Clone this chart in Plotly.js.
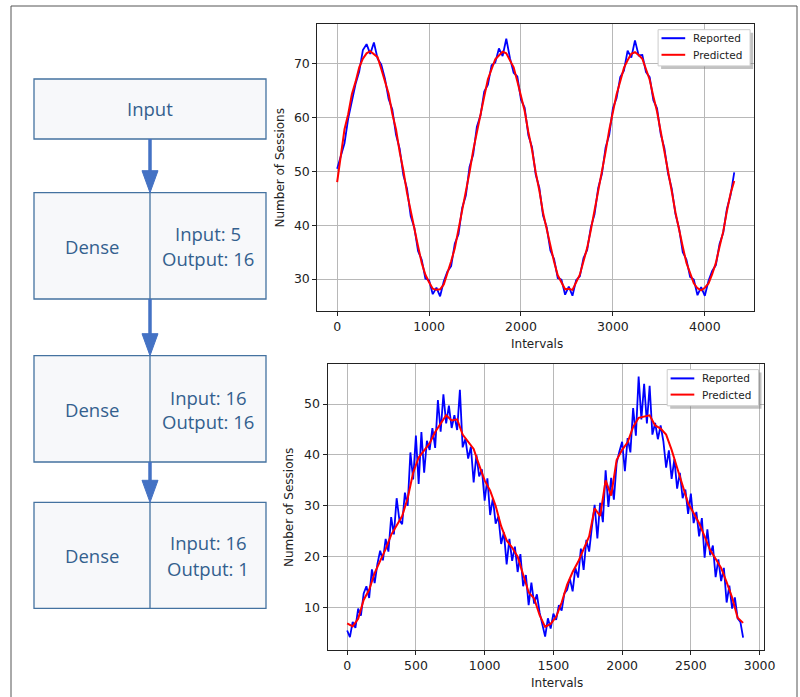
<!DOCTYPE html>
<html>
<head>
<meta charset="utf-8">
<script src="https://cdn.plot.ly/plotly-3.0.1.min.js"></script>
<style>
html,body{margin:0;padding:0;background:#fff;}
#chart{width:800px;height:697px;}
</style>
</head>
<body>
<div id="chart"></div>
<script>
// ---------- DATA ----------
const seriesNames = ['Reported', 'Predicted'];

// Top chart: interval spacing of samples
const topStep = 40;
const topReported = [
  50.5, 52.8, 55.2, 59.8, 63.0, 66.2, 68.5, 72.5, 73.6, 71.8, 73.9, 70.9, 69.8, 67.2, 63.4, 61.5, 56.8, 54.2,
  49.3, 46.8, 41.7, 39.5, 35.2, 33.6, 30.1, 29.8, 27.2, 28.4, 26.8, 29.6, 31.4, 32.4, 36.6, 38.3, 43.2, 45.5,
  50.8, 53.1, 58.3, 60.4, 64.8, 66.1, 69.7, 70.2, 72.8, 71.4, 74.6, 71.0, 68.3, 67.6, 63.3, 61.8, 56.7, 54.5,
  49.4, 46.9, 41.8, 39.6, 35.3, 33.7, 30.2, 29.9, 27.1, 28.6, 26.9, 29.8, 30.5, 33.9, 35.4, 39.6, 42.0, 46.9,
  49.5, 54.4, 56.8, 61.7, 63.6, 67.5, 68.7, 72.4, 71.1, 74.3, 71.5, 71.6, 68.4, 67.5, 63.2, 61.7, 56.9, 54.3,
  49.6, 46.8, 42.1, 39.4, 35.0, 33.6, 30.4, 29.9, 27.0, 28.5, 26.9, 29.7, 31.5, 32.6, 36.5, 38.6, 43.0, 45.6,
  49.8
];
const topPredicted = [
  48.0, 53.2, 57.8, 60.6, 64.3, 66.6, 69.3, 70.9, 71.9, 72.3, 71.8, 71.2, 69.0, 66.8, 64.4, 60.7, 57.8, 53.6,
  50.2, 46.0, 42.7, 38.8, 36.1, 33.0, 30.8, 29.4, 28.2, 28.0, 28.1, 29.0, 31.0, 33.3, 35.7, 39.2, 42.4, 46.3,
  49.8, 53.9, 57.3, 61.2, 63.9, 67.1, 68.9, 70.8, 71.5, 72.2, 71.9, 70.5, 69.3, 66.7, 64.2, 61.2, 57.3, 54.0,
  49.8, 46.4, 42.3, 39.2, 35.7, 33.2, 30.7, 29.5, 28.1, 28.2, 28.0, 29.4, 30.8, 33.3, 35.8, 39.1, 42.6, 46.0,
  50.1, 53.6, 57.7, 60.8, 64.3, 66.7, 69.2, 70.6, 71.8, 72.1, 71.6, 70.9, 68.9, 67.0, 63.9, 61.1, 57.4, 53.9,
  50.0, 46.3, 42.4, 38.9, 36.0, 33.0, 31.0, 29.2, 28.3, 27.9, 28.4, 29.2, 30.9, 33.0, 36.0, 38.8, 42.6, 45.9,
  48.2
];

// Bottom chart
const bottomReportedStep = 20;
const bottomReported = [
  5.5, 4.2, 7.2, 6.0, 9.8, 8.4, 12.8, 14.2, 11.9, 17.5, 14.8, 18.6, 21.2, 19.3, 23.5, 21.0, 27.8, 24.4, 31.5, 27.2,
  26.4, 32.6, 30.0, 40.5, 35.2, 43.8, 34.3, 44.5, 36.5, 42.8, 41.0, 45.3, 41.4, 50.8, 44.6, 51.9, 46.2, 49.7, 45.3, 47.8,
  44.9, 52.8, 41.5, 43.2, 39.3, 41.6, 34.6, 40.0, 35.8, 37.2, 31.0, 35.4, 28.2, 31.5, 26.5, 27.9, 22.5, 24.8, 18.5, 23.5,
  19.2, 22.0, 17.0, 20.5, 14.2, 16.4, 10.5, 14.9, 10.8, 12.6, 9.0, 6.8, 4.3, 7.9, 5.9, 8.8, 7.6, 10.5, 9.4, 12.8,
  13.5, 15.7, 13.2, 17.8, 15.9, 21.6, 17.4, 23.3, 21.0, 25.8, 30.2, 23.6, 30.6, 26.8, 37.0, 29.8, 35.5, 31.2, 38.4, 40.7,
  42.6, 36.8, 43.3, 40.5, 49.2, 43.8, 55.4, 47.0, 54.0, 46.2, 53.6, 44.0, 46.3, 43.1, 45.8, 42.7, 37.5, 40.9, 35.3, 39.2,
  33.4, 36.5, 31.5, 33.2, 28.4, 32.4, 26.6, 28.8, 24.0, 27.6, 19.8, 25.4, 20.3, 22.2, 16.0, 19.5, 15.2, 17.8, 11.0, 14.3,
  9.8, 12.0, 7.9, 7.2, 4.1
];
const bottomPredictedStep = 40;
const bottomPredicted = [
  6.9, 6.3, 7.8, 11.5, 13.5, 16.8, 19.2, 21.5, 24.3, 26.3, 28.0, 31.5, 36.5, 39.5, 41.0, 42.3, 44.5, 46.2, 47.8, 46.8,
  47.0, 44.0, 42.6, 41.2, 38.0, 35.0, 33.0, 30.0, 26.0, 23.2, 21.8, 20.0, 16.5, 13.0, 11.8, 8.5, 6.2, 6.8, 8.2, 11.0,
  14.5, 17.0, 19.0, 21.5, 24.0, 29.5, 28.0, 35.0, 32.0, 39.0, 41.0, 42.5, 45.5, 47.3, 47.5, 47.8, 45.8, 45.2, 44.0, 41.0,
  37.5, 34.0, 30.5, 28.6, 26.6, 24.0, 21.3, 19.6, 17.8, 15.0, 12.0, 8.0, 7.0
];

// Diagram text
const diagramTitle = 'Input';
const layerName = 'Dense';
const layerIO = [
  ['Input: 5', 'Output: 16'],
  ['Input: 16', 'Output: 16'],
  ['Input: 16', 'Output: 1']
];
const xTitle = 'Intervals';
const yTitle = 'Number of Sessions';

// ---------- LAYOUT HELPERS ----------
const W = 800, H = 697;
const X = p => p / W;
const Y = p => 1 - p / H;

const BLUE = '#0000ff', RED = '#ff0000';
const BOX_LINE = '#4472a0', BOX_FILL = '#f7f8fa', TXT = '#33608e', ARROW = '#4472c4';
const chartFont = 'DejaVu Sans, sans-serif';
const diagFont = 'Open Sans, Noto Sans, sans-serif';

const traces = [
  {type: 'scatter', mode: 'lines', name: seriesNames[0], y: topReported, x0: 0, dx: topStep,
   xaxis: 'x', yaxis: 'y', line: {color: BLUE, width: 1.8}},
  {type: 'scatter', mode: 'lines', name: seriesNames[1], y: topPredicted, x0: 0, dx: topStep,
   xaxis: 'x', yaxis: 'y', line: {color: RED, width: 2}},
  {type: 'scatter', mode: 'lines', name: seriesNames[0], y: bottomReported, x0: 0, dx: bottomReportedStep,
   xaxis: 'x2', yaxis: 'y2', line: {color: BLUE, width: 1.8}},
  {type: 'scatter', mode: 'lines', name: seriesNames[1], y: bottomPredicted, x0: 0, dx: bottomPredictedStep,
   xaxis: 'x2', yaxis: 'y2', line: {color: RED, width: 2}}
];

function axis(domain, range, dtick, anchor) {
  return {
    domain: domain, range: range, dtick: dtick, tick0: 0, anchor: anchor,
    showline: true, mirror: true, linecolor: '#222', linewidth: 1,
    ticks: 'outside', ticklen: 4, tickcolor: '#222', tickwidth: 1,
    showgrid: true, gridcolor: '#b8b8b8', gridwidth: 1, zeroline: false,
    tickfont: {family: chartFont, size: 12.5, color: '#222'},
    fixedrange: true
  };
}

const shapes = [];
const annotations = [];

// outer frame
shapes.push({type: 'path', xref: 'paper', yref: 'paper', layer: 'below',
  path: `M ${X(11)} ${Y(697)} L ${X(11)} ${Y(6)} L ${X(797)} ${Y(6)} L ${X(797)} ${Y(697)}`,
  line: {color: '#555', width: 1}});

// boxes
const boxL = 34, boxR = 266, boxMid = 150;
const boxes = [[79, 139], [192.7, 299], [355.7, 462], [502.3, 608.3]];
boxes.forEach((b, i) => {
  shapes.push({type: 'rect', xref: 'paper', yref: 'paper', layer: 'below',
    x0: X(boxL), x1: X(boxR), y0: Y(b[1]), y1: Y(b[0]),
    fillcolor: BOX_FILL, line: {color: BOX_LINE, width: 1.3}});
  if (i > 0) {
    shapes.push({type: 'line', xref: 'paper', yref: 'paper', layer: 'below',
      x0: X(boxMid), x1: X(boxMid), y0: Y(b[0]), y1: Y(b[1]),
      line: {color: BOX_LINE, width: 1.3}});
  }
});
// arrows
for (let i = 0; i < 3; i++) {
  const top = boxes[i][1], bot = boxes[i + 1][0];
  const headTop = bot - 22;
  shapes.push({type: 'line', xref: 'paper', yref: 'paper', layer: 'below',
    x0: X(boxMid), x1: X(boxMid), y0: Y(top), y1: Y(headTop + 1),
    line: {color: ARROW, width: 3.5}});
  shapes.push({type: 'path', xref: 'paper', yref: 'paper', layer: 'below',
    path: `M ${X(boxMid - 8)} ${Y(headTop)} L ${X(boxMid + 8)} ${Y(headTop)} L ${X(boxMid)} ${Y(bot)} Z`,
    fillcolor: ARROW, line: {color: ARROW, width: 1}});
}

function txt(text, x, y, size, color, family, extra) {
  return Object.assign({text: text, xref: 'paper', yref: 'paper', x: X(x), y: Y(y),
    xanchor: 'center', yanchor: 'middle', showarrow: false,
    font: {family: family, size: size, color: color}}, extra || {});
}

annotations.push(txt(diagramTitle, 150, 109, 18.5, TXT, diagFont));
const textY = [[246, 234, 258], [409, 397, 421], [555.7, 542.7, 568.7]];
layerIO.forEach((io, i) => {
  annotations.push(txt(layerName, 92, textY[i][0], 18.5, TXT, diagFont));
  annotations.push(txt(io[0], 208, textY[i][1], 18.5, TXT, diagFont));
  annotations.push(txt(io[1], 208, textY[i][2], 18.5, TXT, diagFont));
});

// axis titles
annotations.push(txt(xTitle, 537, 344, 12, '#222', chartFont));
annotations.push(txt(yTitle, 279.5, 168, 12, '#222', chartFont, {textangle: -90}));
annotations.push(txt(xTitle, 557, 683, 12, '#222', chartFont));
annotations.push(txt(yTitle, 288.6, 507.5, 12, '#222', chartFont, {textangle: -90}));

// legends (matplotlib style: shadowed box, line samples, labels)
function addLegend(box, rows, lineX, textX) {
  shapes.push({type: 'rect', xref: 'paper', yref: 'paper', layer: 'above',
    x0: X(box[0] + 3), x1: X(box[1] + 3), y0: Y(box[3] + 3), y1: Y(box[2] + 3),
    fillcolor: 'rgba(120,120,120,0.45)', line: {width: 0}});
  shapes.push({type: 'rect', xref: 'paper', yref: 'paper', layer: 'above',
    x0: X(box[0]), x1: X(box[1]), y0: Y(box[3]), y1: Y(box[2]),
    fillcolor: '#ffffff', line: {color: '#cccccc', width: 1}});
  [BLUE, RED].forEach((c, i) => {
    shapes.push({type: 'line', xref: 'paper', yref: 'paper', layer: 'above',
      x0: X(lineX[0]), x1: X(lineX[1]), y0: Y(rows[i]), y1: Y(rows[i]),
      line: {color: c, width: 2}});
    annotations.push(txt(seriesNames[i], textX - 2, rows[i], 10.5, '#222', chartFont, {xanchor: 'left'}));
  });
}
addLegend([658.1, 750.1, 29.7, 65.9], [38.2, 54.8], [661.5, 685.2], 692.6);
addLegend([667.2, 758.5, 369.6, 405.8], [378.4, 394.6], [670.6, 694.3], 702);

const layout = {
  width: W, height: H,
  margin: {l: 0, r: 0, t: 0, b: 0},
  paper_bgcolor: '#ffffff', plot_bgcolor: '#ffffff',
  showlegend: false,
  xaxis: axis([X(317.3), X(754.1)], [-216, 4536], 1000, 'y'),
  yaxis: axis([Y(311.4), Y(23.7)], [24.0, 77.4], 10, 'x'),
  xaxis2: axis([X(327.5), X(763.6)], [-143, 3029], 500, 'y2'),
  yaxis2: axis([Y(650.2), Y(364.2)], [1.63, 57.84], 10, 'x2'),
  shapes: shapes,
  annotations: annotations,
  hovermode: false
};

Plotly.newPlot('chart', traces, layout, {staticPlot: true, displayModeBar: false});
</script>
</body>
</html>
